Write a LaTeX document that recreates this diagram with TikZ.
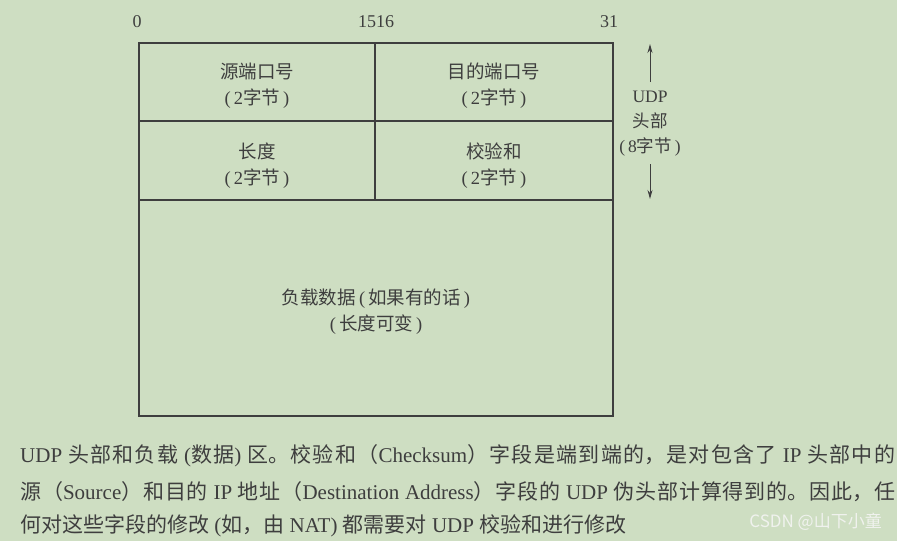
\documentclass[tikz,border=0pt]{standalone}
\usepackage{fontspec}
\setmainfont{Liberation Serif}
\newfontfamily\cjk{Noto Sans CJK SC}
\newcommand{\C}[1]{{\cjk #1}}
\newcommand{\fullline}[1]{\parbox[b]{875pt}{\XeTeXlinebreaklocale "zh"\XeTeXlinebreakskip=0pt plus 6pt\parfillskip=0pt\relax\noindent #1}}
\usetikzlibrary{arrows.meta}
\definecolor{bg}{RGB}{206,222,194}
\definecolor{ink}{RGB}{62,62,62}
\definecolor{wm}{RGB}{240,242,238}
\tikzset{
  frame/.style={draw=ink, line width=1.2pt},
  cell/.style={text=ink, font=\fontsize{18.5}{26}\selectfont, align=center, inner sep=0pt},
  bitnum/.style={text=ink, font=\fontsize{18}{20}\selectfont, inner sep=0pt},
  capline/.style={text=ink, font=\fontsize{21}{24}\selectfont, anchor=base west, inner sep=0pt},
  harrow/.style={draw=ink, line width=1pt, -{Stealth[length=9pt,width=5pt]}}
}
\begin{document}
\begin{tikzpicture}[x=1pt,y=-1pt]
\fill[bg] (0,0) rectangle (897,541);
\useasboundingbox (0,0) rectangle (897,541);
% frame
\coordinate (tl) at (139,43);
\coordinate (br) at (613,416);
\draw[frame] (tl) rectangle (br);
\draw[frame] (139,121) -- (613,121);
\draw[frame] (139,200) -- (613,200);
\draw[frame] (375,43) -- (375,200);
% bit numbers
\node[bitnum] (b0) at (137,22) {0};
\node[bitnum] (b15) at (376,22) {1516};
\node[bitnum] (b31) at (609,22) {31};
% cells
\node[cell] (src) at (257,86) {\C{源端口号}\\(\,2\C{字节}\,)};
\node[cell] (dst) at (494,86) {\C{目的端口号}\\(\,2\C{字节}\,)};
\node[cell] (len) at (257,166) {\C{长度}\\(\,2\C{字节}\,)};
\node[cell] (chk) at (494,166) {\C{校验和}\\(\,2\C{字节}\,)};
\node[cell] (pay) at (376,312) {\C{负载数据}\,(\,\C{如果有的话}\,)\\(\,\C{长度可变}\,)};
% header label
\node[cell, font=\fontsize{17.5}{25}\selectfont] (hdr) at (650,124) {UDP\\\C{头部}\\(\,8\C{字节}\,)};
\coordinate (htop) at (650,44);
\coordinate (hbot) at (650,199);
\coordinate (hupstart) at (650,82);
\coordinate (hdnstart) at (650,164);
\draw[harrow] (hupstart) -- (htop);
\draw[harrow] (hdnstart) -- (hbot);
% caption
\node[capline] (c1) at (20,462) {\fullline{UDP \C{头部和负载} (\C{数据}) \C{区。校验和（}Checksum\C{）字段是端到端的，是对包含了} IP \C{头部中的}}};
\node[capline] (c2) at (20,499) {\fullline{\C{源（}Source\C{）和目的} IP \C{地址（}Destination Address\C{）字段的} UDP \C{伪头部计算得到的。因此，任}}};
\node[capline] (c3) at (20,532) {\C{何对这些字段的修改} (\C{如，由} NAT) \C{都需要对} UDP \C{校验和进行修改}};
\node[text=wm, font=\cjk\fontsize{17}{19}\selectfont, anchor=east, inner sep=0pt] (wmk) at (882,522) {CSDN @山下小童};
\end{tikzpicture}
\end{document}
